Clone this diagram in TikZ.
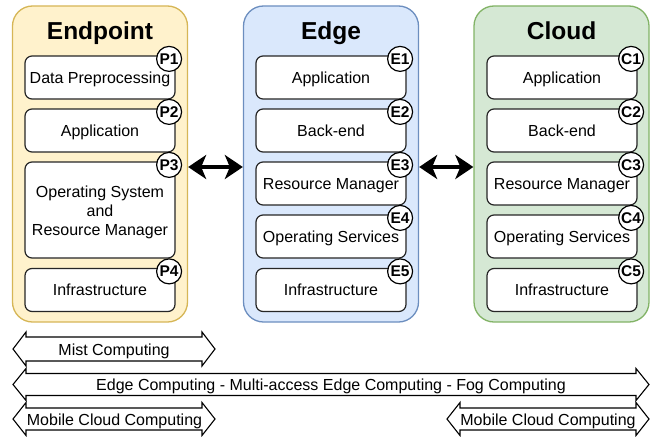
\documentclass[tikz,border=0pt]{standalone}
\usepackage{fontspec}
\setmainfont{Liberation Sans}
\usetikzlibrary{arrows.meta}
\definecolor{epfill}{HTML}{FFF2CC}\definecolor{epdraw}{HTML}{D6B656}
\definecolor{edfill}{HTML}{DAE8FC}\definecolor{eddraw}{HTML}{6C8EBF}
\definecolor{clfill}{HTML}{D5E8D4}\definecolor{cldraw}{HTML}{82B366}
\tikzset{
  container/.style={rounded corners=20pt, line width=1.3pt, minimum width=175pt, minimum height=316pt, inner sep=0pt},
  title/.style={font=\fontsize{24.5}{28}\selectfont\bfseries, inner sep=0pt, text height=17.6pt, text depth=0pt},
  layer/.style={draw=black!85, fill=white, rounded corners=7pt, line width=1.2pt, minimum width=150pt, minimum height=43pt, inner sep=0pt, font=\fontsize{16}{19}\selectfont, align=center},
  onel/.style={text height=11.5pt, text depth=0pt},
  tag/.style={circle, draw=black, fill=white, line width=1.2pt, minimum size=25pt, inner sep=0pt, font=\fontsize{15.5}{16}\selectfont\bfseries, text height=11pt, text depth=0pt},
  bigarr/.style={line width=4pt, {Stealth[length=18pt,width=24pt,inset=5pt]}-{Stealth[length=18pt,width=24pt,inset=5pt]}},
  blockarr/.style={draw=black, fill=white, line width=1.1pt, line join=miter},
  arrlabel/.style={font=\fontsize{16}{19}\selectfont, inner sep=0pt, text height=11.5pt, text depth=0pt},
}
% #1 left tip x, #2 right tip x, #3 center y, #4 half body, #5 half head, #6 head length
\newcommand\dbarrowshape[6]{%
  \draw[blockarr] (#1,#3) -- (#1+#6,#3-#5) -- (#1+#6,#3-#4) -- (#2-#6,#3-#4) -- (#2-#6,#3-#5)
    -- (#2,#3) -- (#2-#6,#3+#5) -- (#2-#6,#3+#4) -- (#1+#6,#3+#4) -- (#1+#6,#3+#5) -- cycle;}
\begin{document}
\begin{tikzpicture}[x=1pt,y=-1pt]
\useasboundingbox (0,0) rectangle (652,436);
% containers
\node[container, draw=epdraw, fill=epfill] (ep) at (100,164) {};
\node[container, draw=eddraw, fill=edfill] (ed) at (331,164) {};
\node[container, draw=cldraw, fill=clfill] (cl) at (561.5,164) {};
\node[title] (ept) at (100,31) {Endpoint};
\node[title] (edt) at (331,31) {Edge};
\node[title] (clt) at (561.5,31) {Cloud};
% Endpoint layers
\node[layer, onel] (p1) at (100,77.5) {Data Preprocessing};
\node[layer, onel] (p2) at (100,130.5) {Application};
\node[layer, minimum height=96pt] (p3) at (100,210) {};
\node[font=\fontsize{16}{19}\selectfont, align=center, inner sep=0pt] (p3text) at ([yshift=-2pt]p3.center) {Operating System\\and\\Resource Manager};
\node[layer, onel] (p4) at (100,290) {Infrastructure};
% Edge layers
\node[layer, onel] (e1) at (331,77.5) {Application};
\node[layer, onel] (e2) at (331,130.5) {Back-end};
\node[layer, onel] (e3) at (331,183.5) {Resource Manager};
\node[layer, onel] (e4) at (331,236.5) {Operating Services};
\node[layer, onel] (e5) at (331,290) {Infrastructure};
% Cloud layers
\node[layer, onel] (c1) at (562,77.5) {Application};
\node[layer, onel] (c2) at (562,130.5) {Back-end};
\node[layer, onel] (c3) at (562,183.5) {Resource Manager};
\node[layer, onel] (c4) at (562,236.5) {Operating Services};
\node[layer, onel] (c5) at (562,290) {Infrastructure};
% tags
\foreach \b/\t in {p1/P1,p2/P2,p3/P3,p4/P4,e1/E1,e2/E2,e3/E3,e4/E4,e5/E5,c1/C1,c2/C2,c3/C3,c4/C4,c5/C5}{
  \node[tag] (t\b) at ([xshift=-6.5pt,yshift=-3.5pt]\b.north east) {\t};
}
% connectors between tiers
\coordinate (ay) at (0,167);
\draw[bigarr] (ep.east |- ay) -- (ed.west |- ay);
\draw[bigarr] (ed.east |- ay) -- (cl.west |- ay);
% block arrows
\dbarrowshape{13}{215}{349}{12}{17}{13}
\node[arrlabel] (mist) at (114,350) {Mist Computing};
\dbarrowshape{13}{649}{384.5}{11}{16}{13}
\node[arrlabel] (edgec) at (331,385) {Edge Computing - Multi-access Edge Computing - Fog Computing};
\dbarrowshape{13}{215}{419}{11}{16.5}{13}
\node[arrlabel] (mccl) at (114.5,419.5) {Mobile Cloud Computing};
\dbarrowshape{447}{649}{419}{11}{16.5}{13}
\node[arrlabel] (mccr) at (548,419.5) {Mobile Cloud Computing};
\end{tikzpicture}
\end{document}
